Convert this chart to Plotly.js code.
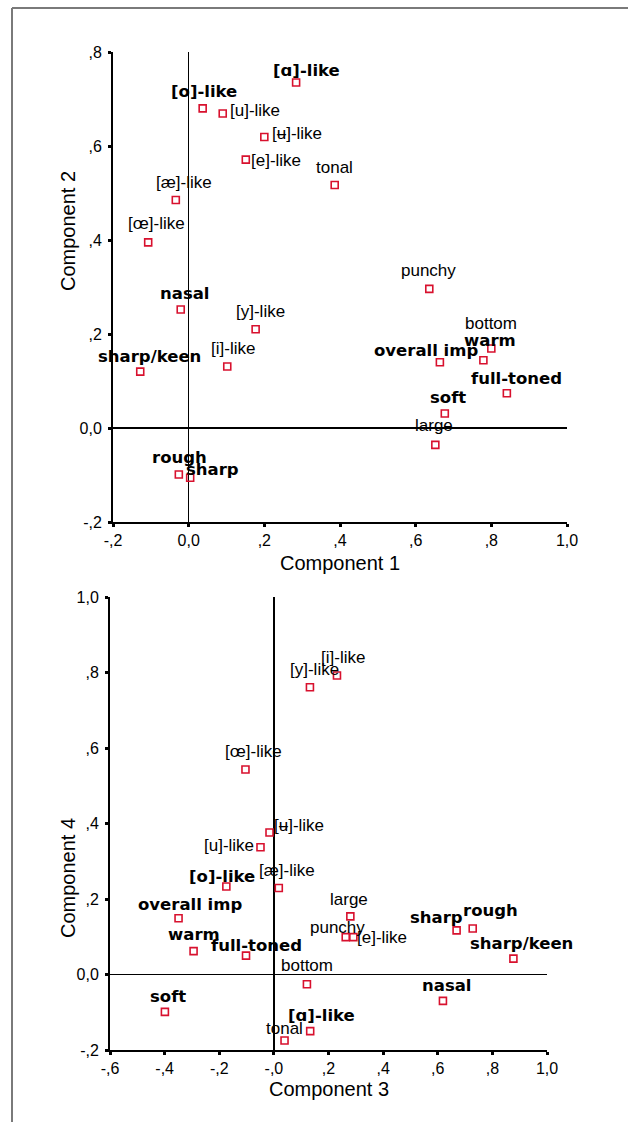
<!DOCTYPE html>
<html>
<head>
<meta charset="utf-8">
<script src="https://cdn.plot.ly/plotly-3.0.1.min.js"></script>
<style>
  html, body { margin: 0; padding: 0; background: #fff; }
  #chart { width: 628px; height: 1122px; }
</style>
</head>
<body>
<div id="chart"></div>
<script>
// ---- data ----
const labels = ["[ɑ]-like", "[o]-like", "[u]-like", "[ʉ]-like", "[e]-like", "tonal", "[æ]-like", "[œ]-like",
  "nasal", "[y]-like", "[i]-like", "sharp/keen", "punchy", "bottom", "warm", "overall imp",
  "full-toned", "soft", "large", "rough", "sharp"];
const isBold = [true, true, false, false, false, false, false, false,
  true, false, false, true, false, false, true, true,
  true, true, false, true, true];
const comp1 = [0.284, 0.037, 0.090, 0.200, 0.151, 0.386, -0.034, -0.107,
  -0.021, 0.177, 0.102, -0.128, 0.636, 0.800, 0.779, 0.664,
  0.841, 0.677, 0.652, -0.026, 0.004];
const comp2 = [0.735, 0.680, 0.669, 0.619, 0.571, 0.517, 0.485, 0.395,
  0.252, 0.210, 0.131, 0.120, 0.296, 0.169, 0.144, 0.140,
  0.074, 0.031, -0.036, -0.099, -0.106];
const comp3 = [0.133, -0.174, -0.049, -0.016, 0.291, 0.039, 0.018, -0.104,
  0.619, 0.132, 0.231, 0.877, 0.263, 0.121, -0.294, -0.349,
  -0.102, -0.399, 0.280, 0.728, 0.669];
const comp4 = [-0.150, 0.233, 0.337, 0.376, 0.099, -0.175, 0.229, 0.543,
  -0.070, 0.761, 0.792, 0.042, 0.099, -0.026, 0.062, 0.149,
  0.050, -0.099, 0.154, 0.122, 0.117];

const tickVals1x = [-0.2, 0, 0.2, 0.4, 0.6, 0.8, 1.0];
const tickText1x = ["-,2", "0,0", ",2", ",4", ",6", ",8", "1,0"];
const tickVals1y = [-0.2, 0, 0.2, 0.4, 0.6, 0.8];
const tickText1y = ["-,2", "0,0", ",2", ",4", ",6", ",8"];
const tickVals2x = [-0.6, -0.4, -0.2, 0, 0.2, 0.4, 0.6, 0.8, 1.0];
const tickText2x = ["-,6", "-,4", "-,2", "-,0", ",2", ",4", ",6", ",8", "1,0"];
const tickVals2y = [-0.2, 0, 0.2, 0.4, 0.6, 0.8, 1.0];
const tickText2y = ["-,2", "0,0", ",2", ",4", ",6", ",8", "1,0"];

// ---- label placement (pixel offsets of label centre from marker) ----
const off1 = [[10,-12],[1,-17],[32,-3],[33,-4],[30,1],[0,-18],[8,-18],[8,-19],
  [4,-16],[5,-18],[6,-18],[9,-15],[-1,-18],[0,-25],[7,-20],[-14,-12],
  [10,-15],[3,-16],[-1,-19],[1,-17],[22,-8]];
const off2 = [[11,-16],[-4,-10],[-31,-2],[29,-7],[29,0],[0,-12],[8,-18],[8,-18],
  [4,-15],[5,-18],[6,-18],[8,-15],[-8,-10],[0,-19],[0,-17],[11,-14],
  [10,-10],[3,-15],[-1,-17],[18,-18],[-20,-13]];

const W = 628, H = 1122;
const RED = '#d8112e';
const normalFont = {family: 'Liberation Sans, Arial, sans-serif', size: 17, color: '#000'};
const boldFont = {family: 'DejaVu Sans, sans-serif', size: 16.5, color: '#000', weight: 'bold'};
const tickFont = {family: 'Liberation Sans, Arial, sans-serif', size: 16, color: '#000'};
const titleFont = {family: 'Liberation Sans, Arial, sans-serif', size: 20, color: '#000'};

const markerStyle = {symbol: 'square-open', size: 7, color: RED, line: {color: RED, width: 1.6}};

const traces = [
  {x: comp1, y: comp2, xaxis: 'x', yaxis: 'y', type: 'scatter', mode: 'markers',
   marker: markerStyle, hoverinfo: 'skip', showlegend: false},
  {x: comp3, y: comp4, xaxis: 'x2', yaxis: 'y2', type: 'scatter', mode: 'markers',
   marker: markerStyle, hoverinfo: 'skip', showlegend: false}
];

const annotations = [];
labels.forEach((lab, i) => {
  annotations.push({x: comp1[i], y: comp2[i], xref: 'x', yref: 'y', text: lab, showarrow: false,
    xanchor: 'center', yanchor: 'middle', xshift: off1[i][0], yshift: -off1[i][1],
    font: isBold[i] ? boldFont : normalFont});
  annotations.push({x: comp3[i], y: comp4[i], xref: 'x2', yref: 'y2', text: lab, showarrow: false,
    xanchor: 'center', yanchor: 'middle', xshift: off2[i][0], yshift: -off2[i][1],
    font: isBold[i] ? boldFont : normalFont});
});

// axis titles
annotations.push({text: 'Component 1', xref: 'paper', yref: 'paper', x: 340 / W, y: 1 - 563 / H,
  showarrow: false, xanchor: 'center', yanchor: 'middle', font: titleFont});
annotations.push({text: 'Component 2', xref: 'paper', yref: 'paper', x: 68 / W, y: 1 - 231 / H,
  showarrow: false, xanchor: 'center', yanchor: 'middle', textangle: -90, font: titleFont});
annotations.push({text: 'Component 3', xref: 'paper', yref: 'paper', x: 329 / W, y: 1 - 1089 / H,
  showarrow: false, xanchor: 'center', yanchor: 'middle', font: titleFont});
annotations.push({text: 'Component 4', xref: 'paper', yref: 'paper', x: 68 / W, y: 1 - 878 / H,
  showarrow: false, xanchor: 'center', yanchor: 'middle', textangle: -90, font: titleFont});

function axisBase(extra) {
  return Object.assign({
    showgrid: false, showline: true, linecolor: '#000', linewidth: 2,
    ticks: 'outside', ticklen: 3, tickwidth: 3, tickcolor: '#000',
    zeroline: true, zerolinecolor: '#000', zerolinewidth: 1.5,
    tickfont: tickFont, fixedrange: true, ticklabelstandoff: 3
  }, extra);
}

const layout = {
  width: W, height: H,
  margin: {l: 0, r: 0, t: 0, b: 0},
  paper_bgcolor: '#fff', plot_bgcolor: 'rgba(0,0,0,0)',
  showlegend: false,
  xaxis: axisBase({domain: [113 / W, 567 / W], range: [-0.2, 1.0], anchor: 'y',
    tickmode: 'array', tickvals: tickVals1x, ticktext: tickText1x, ticklabelstandoff: 0}),
  yaxis: axisBase({domain: [1 - 522 / H, 1 - 52 / H], range: [-0.2, 0.8], anchor: 'x',
    tickmode: 'array', tickvals: tickVals1y, ticktext: tickText1y}),
  xaxis2: axisBase({domain: [110 / W, 547 / W], range: [-0.6, 1.0], anchor: 'y2',
    tickmode: 'array', tickvals: tickVals2x, ticktext: tickText2x, ticklabelstandoff: 0}),
  yaxis2: axisBase({domain: [1 - 1050 / H, 1 - 597 / H], range: [-0.2, 1.0], anchor: 'x2',
    tickmode: 'array', tickvals: tickVals2y, ticktext: tickText2y}),
  annotations: annotations,
  shapes: [
    {type: 'line', xref: 'paper', yref: 'paper', x0: 12 / W, x1: 12 / W, y0: 0, y1: 1 - 8 / H,
     line: {color: '#7a7a7a', width: 2}},
    {type: 'line', xref: 'paper', yref: 'paper', x0: 12 / W, x1: 1, y0: 1 - 8 / H, y1: 1 - 8 / H,
     line: {color: '#7a7a7a', width: 2}}
  ]
};

Plotly.newPlot('chart', traces, layout, {displayModeBar: false, staticPlot: true});
</script>
</body>
</html>
